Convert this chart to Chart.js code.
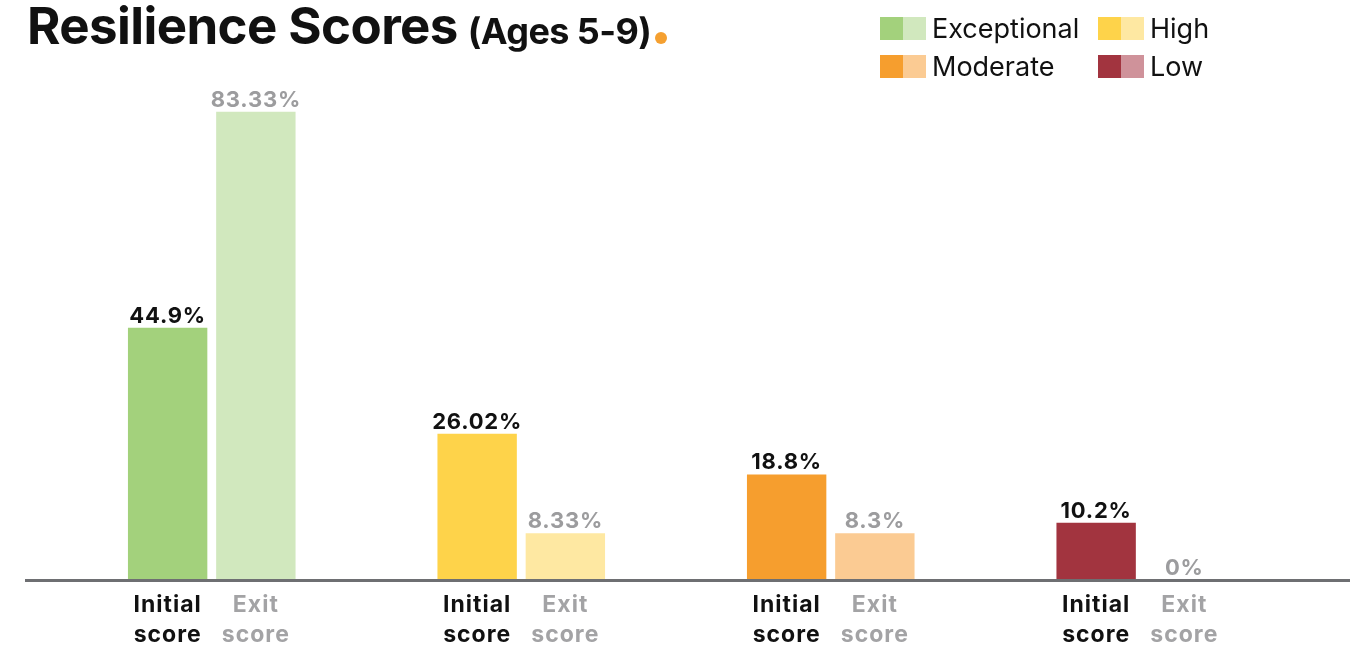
<!DOCTYPE html>
<html>
<head>
<meta charset="utf-8">
<script src="https://cdn.jsdelivr.net/npm/chart.js@4"></script>
<style>
  body { margin: 0; background: #fff; font-family: Inter, "Noto Sans", sans-serif; }
  .wrap { position: relative; width: 1358px; height: 648px; }
  canvas { position: absolute; left: 0; top: 0; }
  .title { position: absolute; left: 27px; top: -5px; font-weight: 700; color: #111; white-space: nowrap; }
  .title .main { font-size: 51px; letter-spacing: -0.6px; }
  .title .sub { font-size: 36px; letter-spacing: -0.6px; margin-left: 10px; }
  .title .dot { display: inline-block; width: 12px; height: 12px; border-radius: 50%; background: #f5a030; margin-left: 4px; }
  .legend { position: absolute; left: 880px; top: 14px; display: grid; grid-template-columns: 218px 160px; row-gap: 10px; }
  .legend .item { display: flex; align-items: center; font-size: 27px; color: #111; height: 28px; }
  .legend .sw { display: inline-block; width: 23px; height: 23px; }
  .legend .txt { margin-left: 6px; }
</style>
</head>
<body>
<div class="wrap">
  <canvas id="chart" width="1358" height="648"></canvas>
  <div class="title"><span class="main">Resilience Scores</span><span class="sub">(Ages 5-9)</span><span class="dot"></span></div>
  <div class="legend" id="legend"></div>
</div>
<script>
// resilience bands, with the score at intake and at exit (percent of children)
const bands = ['Exceptional', 'High', 'Moderate', 'Low'];
const initialScores = [44.9, 26.02, 18.8, 10.2];
const exitScores = [83.33, 8.33, 8.3, 0];
const barNames = ['Initial score', 'Exit score'];

const darkColors = ['#a3d17c', '#fed34a', '#f69e2e', '#a2343f'];
const lightColors = ['#d1e8be', '#fee8a2', '#fbcb93', '#cf929a'];

// legend with two-tone swatches
const legendEl = document.getElementById('legend');
bands.forEach((b, i) => {
  const item = document.createElement('div');
  item.className = 'item';
  item.innerHTML = '<span class="sw" style="background:' + darkColors[i] + '"></span>' +
    '<span class="sw" style="background:' + lightColors[i] + '"></span>' +
    '<span class="txt">' + b + '</span>';
  legendEl.appendChild(item);
});

const valueFont = 'bold 22px Inter, "Noto Sans", sans-serif';
const nameFont = 'bold 23px Inter, "Noto Sans", sans-serif';

// value on top of each bar, black for initial and grey for exit
const valueLabels = {
  id: 'valueLabels',
  afterDatasetsDraw(chart) {
    const ctx = chart.ctx;
    ctx.save();
    ctx.font = valueFont;
    ctx.letterSpacing = '0.8px';
    ctx.textAlign = 'center';
    ctx.textBaseline = 'alphabetic';
    chart.data.datasets.forEach((ds, di) => {
      chart.getDatasetMeta(di).data.forEach((bar, i) => {
        ctx.fillStyle = di === 0 ? '#111' : '#9c9c9e';
        ctx.fillText(ds.data[i] + '%', bar.x, bar.y - 5);
      });
    });
    ctx.restore();
  }
};

// baseline and the two-line name under every bar
const baseAndNames = {
  id: 'baseAndNames',
  afterDraw(chart) {
    const ctx = chart.ctx;
    const y0 = chart.scales.y.getPixelForValue(0);
    ctx.save();
    ctx.fillStyle = '#6e6f72';
    ctx.fillRect(25, y0 - 1, chart.width - 33, 3);
    ctx.font = nameFont;
    ctx.letterSpacing = '1px';
    ctx.textAlign = 'center';
    ctx.textBaseline = 'middle';
    chart.data.datasets.forEach((ds, di) => {
      const words = barNames[di].split(' ');
      ctx.fillStyle = di === 0 ? '#111' : '#a3a3a5';
      chart.getDatasetMeta(di).data.forEach((bar) => {
        ctx.fillText(words[0], bar.x, y0 + 25);
        ctx.fillText(words[1], bar.x, y0 + 55);
      });
    });
    ctx.restore();
  }
};

new Chart(document.getElementById('chart'), {
  type: 'bar',
  data: {
    labels: bands,
    datasets: [
      { label: barNames[0], data: initialScores, backgroundColor: darkColors },
      { label: barNames[1], data: exitScores, backgroundColor: lightColors }
    ]
  },
  options: {
    responsive: false,
    animation: false,
    layout: { padding: { left: 57, right: 63, top: 80, bottom: 68 } },
    datasets: { bar: { barPercentage: 0.9, categoryPercentage: 0.57 } },
    plugins: { legend: { display: false }, tooltip: { enabled: false } },
    scales: {
      x: { display: false },
      y: { display: false, min: 0, max: 89 }
    }
  },
  plugins: [valueLabels, baseAndNames]
});
</script>
</body>
</html>
